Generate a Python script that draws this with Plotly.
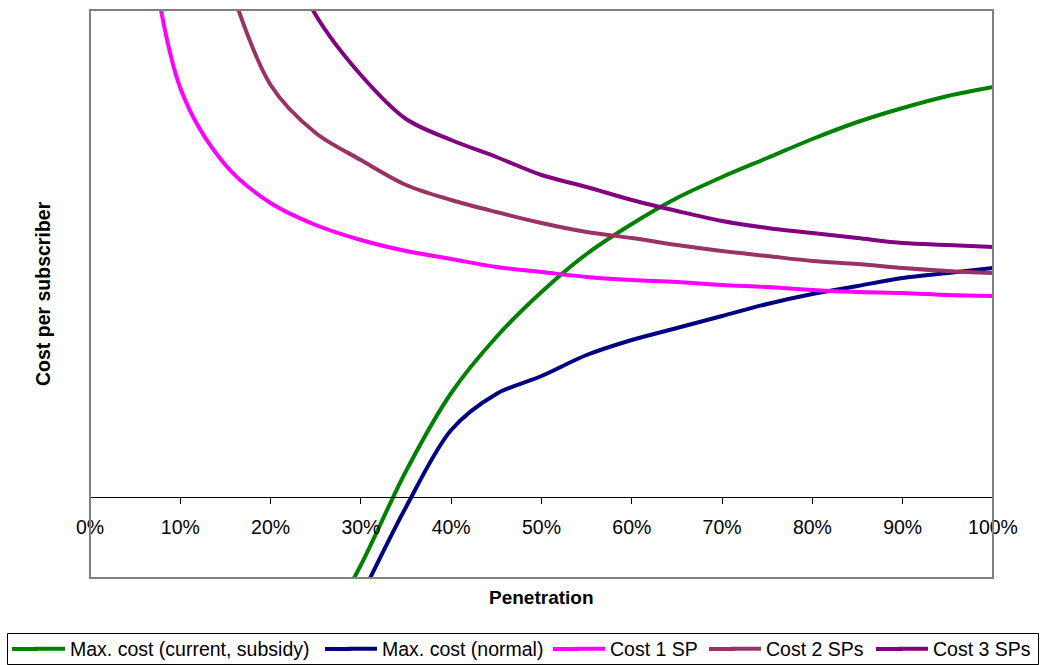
import plotly.graph_objects as go

# Penetration levels (fraction of homes passed), 5% steps
penetration = [0.05, 0.10, 0.15, 0.20, 0.25, 0.30, 0.35, 0.40, 0.45, 0.50,
               0.55, 0.60, 0.65, 0.70, 0.75, 0.80, 0.85, 0.90, 0.95, 1.00]

# Cost per subscriber (relative units; the axis carries no scale labels)
max_cost_subsidy = [None, None, None, None, -150, -68, 26, 104, 160, 205,
                    243, 273, 299, 320, 339, 358, 375, 389, 401, 410]
max_cost_normal = [None, None, None, None, None, -100, -10, 67, 103, 121,
                   142, 157, 169, 181, 193, 203, 211, 219, 224, 229]
cost_1_sp = [650, 409, 332, 294, 272, 257, 246, 238, 230, 225,
             220, 217, 215, 212, 210, 207, 205, 204, 202, 201]
cost_2_sps = [None, None, 525, 412, 364, 337, 312, 297, 285, 274,
              265, 259, 252, 246, 241, 236, 233, 229, 226, 224]
cost_3_sps = [None, None, None, 580, 482, 422, 378, 357, 340, 322,
              310, 297, 286, 276, 269, 264, 259, 254, 252, 250]

series_names = ["Max. cost (current, subsidy)", "Max. cost (normal)",
                "Cost 1 SP", "Cost 2 SPs", "Cost 3 SPs"]
series_values = [max_cost_subsidy, max_cost_normal, cost_1_sp, cost_2_sps, cost_3_sps]
series_colors = ["#008000", "#000080", "#FF00FF", "#993366", "#800080"]
# legend entry widths and which legend box row part each entry sits in
legend_widths = [267, 183, None, 122, None]
legend_ids = ["legend", "legend", "legend", "legend2", "legend2"]
# left edge (px) of the key line for each entry
legend_key_starts = [12, 325, 553, 709, 876]

tick_values = [i / 10 for i in range(11)]
tick_labels = [f"{i * 10}%" for i in range(11)]

Y_MIN, Y_MAX = -81, 487

FONT = "Arial, Liberation Sans, sans-serif"
W, H = 1045, 665
L, R, T, B = 90, 52, 10, 87
PW, PH = W - L - R, H - T - B
LEGEND_Y = 649


def px_to_paper_x(px):
    return (px - L) / PW


def px_to_paper_y(py):
    return (H - B - py) / PH


fig = go.Figure()
for name, vals, color, lw, lid in zip(series_names, series_values, series_colors,
                                      legend_widths, legend_ids):
    kw = {} if lw is None else {"legendwidth": lw}
    fig.add_trace(go.Scatter(
        x=penetration, y=vals, name=name, mode="lines",
        line=dict(color=color, width=4, shape="spline", smoothing=0.9),
        legend=lid, hoverinfo="skip", **kw,
    ))

legend_common = dict(
    orientation="h", xanchor="left",
    y=px_to_paper_y(LEGEND_Y), yanchor="middle",
    bgcolor="rgba(0,0,0,0)", borderwidth=0,
    font=dict(family=FONT, size=19.5, color="black"),
    itemwidth=30, tracegroupgap=0,
)

shapes = [
    # plot area frame
    dict(type="rect", xref="paper", yref="paper", x0=0, x1=1, y0=0, y1=1,
         line=dict(color="#808080", width=2), layer="above"),
    # legend box
    dict(type="rect", xref="paper", yref="paper",
         x0=px_to_paper_x(7.5), x1=px_to_paper_x(1038.5),
         y0=px_to_paper_y(633.5), y1=px_to_paper_y(664.5),
         line=dict(color="black", width=1), layer="above"),
]
# lengthen the legend key lines
for start, color in zip(legend_key_starts, series_colors):
    shapes.append(dict(
        type="line", xref="paper", yref="paper",
        x0=px_to_paper_x(start), x1=px_to_paper_x(start + 26),
        y0=px_to_paper_y(LEGEND_Y), y1=px_to_paper_y(LEGEND_Y),
        line=dict(color=color, width=4), layer="above",
    ))

fig.update_layout(
    width=W, height=H,
    margin=dict(l=L, r=R, t=T, b=B, pad=0, autoexpand=False),
    paper_bgcolor="white", plot_bgcolor="white",
    font=dict(family=FONT, size=19.5, color="black"),
    showlegend=True,
    legend=dict(x=px_to_paper_x(30), **legend_common),
    legend2=dict(x=px_to_paper_x(726), **legend_common),
    xaxis=dict(
        range=[0, 1], anchor="free", position=(0 - Y_MIN) / (Y_MAX - Y_MIN),
        tickvals=tick_values, ticktext=tick_labels,
        showline=True, linecolor="black", linewidth=1,
        ticks="outside", ticklen=6, tickcolor="black", tickwidth=1,
        ticklabelstandoff=7,
        showgrid=False, zeroline=False,
        tickfont=dict(family=FONT, size=19.5, color="black"),
    ),
    yaxis=dict(
        range=[Y_MIN, Y_MAX], showticklabels=False, ticks="",
        showgrid=False, zeroline=False, showline=False,
    ),
    shapes=shapes,
    annotations=[
        dict(text="<b>Penetration</b>", xref="paper", yref="paper",
             x=0.5, y=px_to_paper_y(597), xanchor="center", yanchor="middle",
             showarrow=False, font=dict(family=FONT, size=19, color="black")),
        dict(text="<b>Cost per subscriber</b>", xref="paper", yref="paper",
             x=px_to_paper_x(43), y=0.5, xanchor="center", yanchor="middle",
             textangle=-90, showarrow=False,
             font=dict(family=FONT, size=19.5, color="black")),
    ],
)

fig.write_html("out.html")
